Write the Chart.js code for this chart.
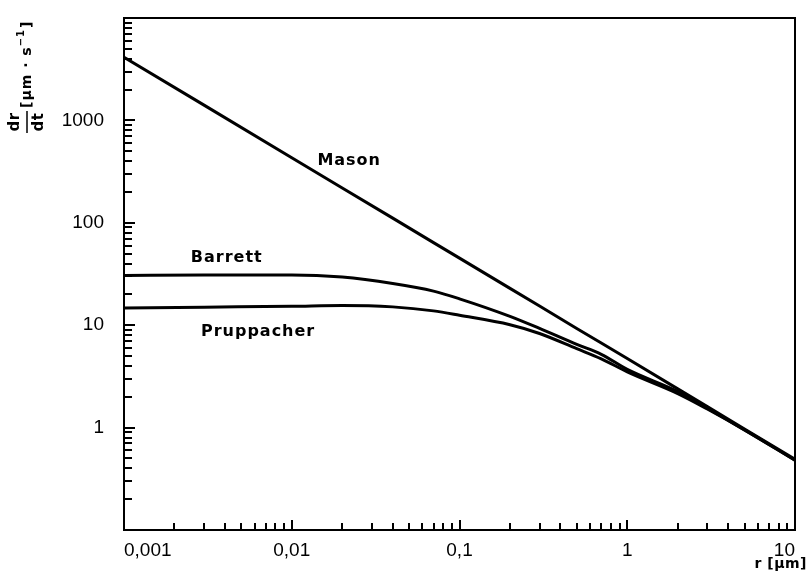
<!DOCTYPE html>
<html>
<head>
<meta charset="utf-8">
<script src="https://cdn.jsdelivr.net/npm/chart.js@4/dist/chart.umd.min.js"></script>
<style>
  body { margin: 0; background: #fff; }
  canvas { display: block; }
</style>
</head>
<body>
<canvas id="chart" width="809" height="573"></canvas>
<script>
// radius r in µm
const radius = [0.001, 0.003, 0.01, 0.02, 0.04, 0.07, 0.1, 0.2, 0.3, 0.5, 0.7, 1, 2, 3, 5, 10];

// dr/dt in µm/s
const mason      = [4140, 1410, 432, 219, 111, 64, 45.2, 22.9, 15.4, 9.3, 6.7, 4.72, 2.39, 1.61, 0.97, 0.49];
const barrett    = [30.5, 31, 31, 29.5, 25.5, 21.5, 18.1, 12.2, 9.3, 6.5, 5.2, 3.7, 2.25, 1.55, 0.95, 0.48];
const pruppacher = [14.7, 15, 15.3, 15.6, 15.1, 13.8, 12.5, 10.1, 8.3, 5.9, 4.7, 3.5, 2.15, 1.52, 0.95, 0.48];

const xTicks = [0.001, 0.01, 0.1, 1, 10];
const xTickLabels = ['0,001', '0,01', '0,1', '1', '10'];
const yTicks = [1, 10, 100, 1000];
const yTickLabels = ['1', '10', '100', '1000'];

// curve names and where they sit (data coords)
const curveNames = ['Mason', 'Barrett', 'Pruppacher'];
const nameX = [0.022, 0.0041, 0.0063];
const nameY = [407, 45, 8.7];

function toPoints(ys) {
    return radius.map((r, i) => ({ x: r, y: ys[i] }));
}

const lineStyle = {
    borderColor: '#000',
    borderWidth: 3,
    pointRadius: 0,
    fill: false,
    cubicInterpolationMode: 'monotone'
};

// frame, inward ticks, names and axis titles
const decorPlugin = {
    id: 'decor',
    afterDraw(chart) {
        const ctx = chart.ctx;
        const a = chart.chartArea;
        const xs = chart.scales.x;
        const ys = chart.scales.y;
        ctx.save();
        ctx.strokeStyle = '#000';
        ctx.lineWidth = 2;
        ctx.strokeRect(a.left, a.top, a.right - a.left, a.bottom - a.top);

        // y ticks
        for (let n = -1; n <= 4; n++) {
            for (let k = 1; k <= 9; k++) {
                const v = k * Math.pow(10, n);
                if (v < ys.min || v > ys.max) continue;
                const py = Math.round(ys.getPixelForValue(v));
                const len = k === 1 ? 11 : 8;
                ctx.beginPath();
                ctx.moveTo(a.left, py);
                ctx.lineTo(a.left + len, py);
                ctx.stroke();
            }
        }
        // x ticks
        for (let n = -3; n <= 1; n++) {
            for (let k = 1; k <= 9; k++) {
                const v = k * Math.pow(10, n);
                if (v < xs.min || v > xs.max) continue;
                const px = Math.round(xs.getPixelForValue(v));
                const len = k === 1 ? 10 : 7;
                ctx.beginPath();
                ctx.moveTo(px, a.bottom);
                ctx.lineTo(px, a.bottom - len);
                ctx.stroke();
            }
        }

        // curve names
        ctx.fillStyle = '#000';
        ctx.font = 'bold 16px "DejaVu Sans"';
        ctx.letterSpacing = '1px';
        ctx.textAlign = 'center';
        ctx.textBaseline = 'middle';
        curveNames.forEach((name, i) => {
            ctx.fillText(name, xs.getPixelForValue(nameX[i]), ys.getPixelForValue(nameY[i]));
        });

        // x title
        ctx.textAlign = 'right';
        ctx.letterSpacing = '0.5px';
        ctx.font = 'bold 14px "DejaVu Sans"';
        ctx.fillText('r [µm]', 807, 564);

        // y title, rotated
        ctx.rotate(-Math.PI / 2);
        ctx.textAlign = 'center';
        ctx.font = 'bold 15px "DejaVu Sans"';
        ctx.letterSpacing = '0.5px';
        ctx.fillText('dr', -122, 15);
        ctx.fillText('dt', -122, 39);
        ctx.lineWidth = 1.5;
        ctx.beginPath();
        ctx.moveTo(-133, 27);
        ctx.lineTo(-111, 27);
        ctx.stroke();

        ctx.textAlign = 'left';
        ctx.font = 'bold 14px "DejaVu Sans"';
        ctx.letterSpacing = '1px';
        let rx = -108;
        const part1 = '[µm · s';
        ctx.fillText(part1, rx, 27);
        rx += ctx.measureText(part1).width;
        ctx.font = 'bold 10px "DejaVu Sans"';
        ctx.fillText('−1', rx, 21);
        rx += ctx.measureText('−1').width + 1;
        ctx.font = 'bold 14px "DejaVu Sans"';
        ctx.fillText(']', rx, 27);
        ctx.restore();
    }
};

new Chart(document.getElementById('chart'), {
    type: 'line',
    data: {
        datasets: [
            Object.assign({ label: 'Mason', data: toPoints(mason) }, lineStyle, { cubicInterpolationMode: 'default', tension: 0 }),
            Object.assign({ label: 'Barrett', data: toPoints(barrett) }, lineStyle),
            Object.assign({ label: 'Pruppacher', data: toPoints(pruppacher) }, lineStyle)
        ]
    },
    options: {
        responsive: false,
        animation: false,
        layout: { padding: { top: 18, right: 14, left: 0, bottom: 0 } },
        plugins: {
            legend: { display: false },
            tooltip: { enabled: false }
        },
        scales: {
            x: {
                type: 'logarithmic',
                min: 0.001,
                max: 10,
                border: { display: false },
                grid: { display: false, drawTicks: false },
                afterBuildTicks(scale) {
                    scale.ticks = xTicks.map(v => ({ value: v }));
                },
                afterFit(scale) {
                    scale.height = 43;
                    scale.paddingLeft = 0;
                    scale.paddingRight = 0;
                },
                ticks: {
                    align: 'inner',
                    padding: 9,
                    maxRotation: 0,
                    autoSkip: false,
                    color: '#000',
                    font: { family: 'Liberation Sans', size: 19 },
                    callback(value) {
                        const i = xTicks.indexOf(value);
                        return i >= 0 ? xTickLabels[i] : '';
                    }
                }
            },
            y: {
                type: 'logarithmic',
                min: 0.1,
                max: 10000,
                border: { display: false },
                grid: { display: false, drawTicks: false },
                afterBuildTicks(scale) {
                    scale.ticks = yTicks.map(v => ({ value: v }));
                },
                afterFit(scale) {
                    scale.width = 124;
                    scale.paddingTop = 0;
                    scale.paddingBottom = 0;
                },
                ticks: {
                    padding: 20,
                    autoSkip: false,
                    color: '#000',
                    font: { family: 'Liberation Sans', size: 19 },
                    callback(value) {
                        const i = yTicks.indexOf(value);
                        return i >= 0 ? yTickLabels[i] : '';
                    }
                }
            }
        }
    },
    plugins: [decorPlugin]
});
</script>
</body>
</html>
